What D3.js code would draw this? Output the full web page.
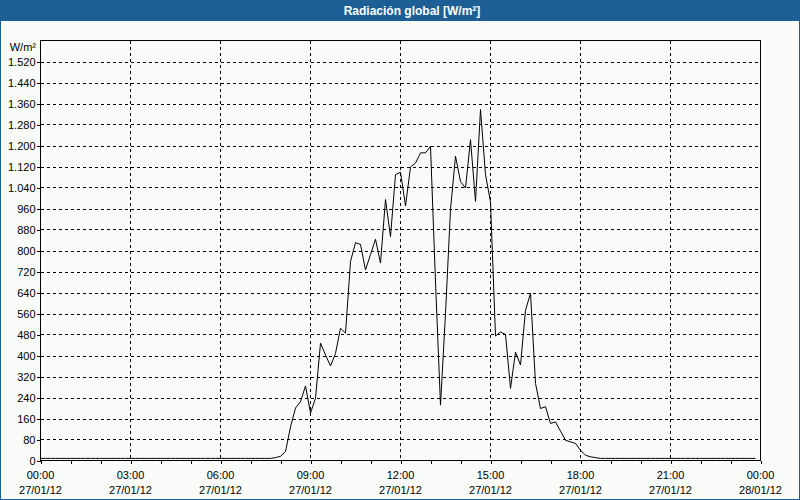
<!DOCTYPE html>
<html>
<head>
<meta charset="utf-8">
<script src="https://cdn.jsdelivr.net/npm/d3@7"></script>
<style>
  html, body { margin: 0; padding: 0; background: #f8fbf8; }
  svg { display: block; }
</style>
</head>
<body>
<svg id="chart" width="800" height="500"></svg>
<script>
// ---- Data (10-minute samples starting 27/01/12 00:00) ----
const chartTitle = "Radiación global [W/m²]";
const unitLabel = "W/m²";
const startTime = new Date(2012, 0, 27, 0, 0);
const endTime = new Date(2012, 0, 28, 0, 0);
const stepMinutes = 10;
const values = [
  8, 8, 8, 8, 8, 8, 8, 8, 8, 8, 8, 8,          // 00:00-01:50
  8, 8, 8, 8, 8, 8, 8, 8, 8, 8, 8, 8,          // 02:00-03:50
  8, 8, 8, 8, 8, 8, 8, 8, 8, 8, 8, 8,          // 04:00-05:50
  8, 8, 8, 8, 8, 8, 8, 8, 8, 8, 8, 11,         // 06:00-07:50
  16, 34, 128, 200, 224, 284, 181, 237, 447, 402, 360, 408,   // 08:00-09:50
  504, 485, 758, 830, 823, 726, 785, 843, 752, 994, 853, 1089, // 10:00-11:50
  1098, 970, 1118, 1133, 1172, 1172, 1197, 680, 211, 560, 956, 1159, // 12:00-13:50
  1063, 1038, 1222, 987, 1337, 1089, 985, 474, 490, 480, 275, 413,   // 14:00-15:50
  364, 572, 637, 294, 198, 205, 141, 147, 112, 77, 71, 65,    // 16:00-17:50
  39, 20, 14, 11, 8, 8, 8, 8, 8, 8, 8, 8,       // 18:00-19:50
  8, 8, 8, 8, 8, 8, 8, 8, 8, 8, 8, 8,          // 20:00-21:50
  8, 8, 8, 8, 8, 8, 8, 8, 8, 8, 8, 8           // 22:00-23:50
];
const yTicks = [0, 80, 160, 240, 320, 400, 480, 560, 640, 720, 800, 880, 960, 1040, 1120, 1200, 1280, 1360, 1440, 1520];
const yMax = 1600;
const xMajorHours = [0, 3, 6, 9, 12, 15, 18, 21, 24];
const xTimeLabels = ["00:00", "03:00", "06:00", "09:00", "12:00", "15:00", "18:00", "21:00", "00:00"];
const xDateLabels = ["27/01/12", "27/01/12", "27/01/12", "27/01/12", "27/01/12", "27/01/12", "27/01/12", "27/01/12", "28/01/12"];

// ---- Layout ----
const W = 800, H = 500;
const pLeft = 40.5, pRight = 760.5, pTop = 40.5, pBottom = 460.5;
const blue = "#1d5f95";
const font = "'Liberation Sans', Arial, sans-serif";

const svg = d3.select("#chart");

svg.append("rect").attr("x", 0).attr("y", 0).attr("width", W).attr("height", H).attr("fill", "#f8fbf8");
svg.append("rect").attr("x", 0).attr("y", 0).attr("width", W).attr("height", 21).attr("fill", blue);
svg.append("rect").attr("x", 0.5).attr("y", 0.5).attr("width", W - 1).attr("height", H - 1)
  .attr("fill", "none").attr("stroke", blue).attr("stroke-width", 1);

svg.append("text").attr("x", 412).attr("y", 15)
  .attr("text-anchor", "middle").attr("fill", "#ffffff")
  .attr("font-family", font).attr("font-size", "12px").attr("font-weight", "bold")
  .text(chartTitle);

const x = d3.scaleTime().domain([startTime, endTime]).range([pLeft, pRight]);
const y = d3.scaleLinear().domain([0, yMax]).range([pBottom, pTop]);
const hourDate = h => new Date(startTime.getTime() + h * 3600000);

// grid lines
const grid = svg.append("g").attr("stroke", "#000").attr("stroke-width", 1)
  .attr("stroke-dasharray", "3,3").attr("shape-rendering", "crispEdges");
grid.selectAll("line.h").data(yTicks.filter(v => v > 0)).enter().append("line")
  .attr("x1", pLeft).attr("x2", pRight)
  .attr("y1", d => Math.round(y(d)) + 0.5).attr("y2", d => Math.round(y(d)) + 0.5);
grid.selectAll("line.v").data(xMajorHours.slice(1, -1)).enter().append("line")
  .attr("x1", d => x(hourDate(d))).attr("x2", d => x(hourDate(d)))
  .attr("y1", pTop).attr("y2", pBottom);

// y axis
const yAxis = d3.axisLeft(y).tickValues(yTicks).tickSize(4).tickPadding(1)
  .tickFormat(d => d3.format(",")(d).replace(/,/g, "."));
const gy = svg.append("g").attr("transform", `translate(${pLeft},0)`).call(yAxis);
gy.select(".domain").remove();
gy.selectAll(".tick line").attr("stroke", "#000").attr("shape-rendering", "crispEdges");
gy.selectAll(".tick text").attr("font-family", font).attr("font-size", "11px").attr("fill", "#000").attr("dy", "0.4em");

svg.append("text").attr("x", 36).attr("y", 51).attr("text-anchor", "end")
  .attr("font-family", font).attr("font-size", "11px").attr("fill", "#000").text(unitLabel);

// x axis
const hourly = d3.range(0, 25).map(hourDate);
const xAxis = d3.axisBottom(x).tickValues(hourly).tickSize(3).tickFormat("");
const gx = svg.append("g").attr("transform", `translate(0,${pBottom})`).call(xAxis);
gx.select(".domain").remove();
gx.selectAll(".tick line").attr("stroke", "#000").attr("shape-rendering", "crispEdges");

const lbl = svg.append("g").attr("font-family", font).attr("font-size", "11px").attr("fill", "#000").attr("text-anchor", "middle");
lbl.selectAll("text.t").data(xMajorHours).enter().append("text")
  .attr("x", d => x(hourDate(d))).attr("y", 479).text((d, i) => xTimeLabels[i]);
lbl.selectAll("text.d").data(xMajorHours).enter().append("text")
  .attr("x", d => x(hourDate(d))).attr("y", 494).text((d, i) => xDateLabels[i]);

// plot frame
svg.append("rect").attr("x", pLeft).attr("y", pTop).attr("width", pRight - pLeft).attr("height", pBottom - pTop)
  .attr("fill", "none").attr("stroke", "#000").attr("stroke-width", 1).attr("shape-rendering", "crispEdges");

// data line
const pts = values.map((v, i) => ({ t: new Date(startTime.getTime() + i * stepMinutes * 60000), v }));
const line = d3.line().x(d => x(d.t)).y(d => y(d.v));
svg.append("path").datum(pts).attr("d", line)
  .attr("fill", "none").attr("stroke", "#000").attr("stroke-width", 1);
</script>
</body>
</html>
